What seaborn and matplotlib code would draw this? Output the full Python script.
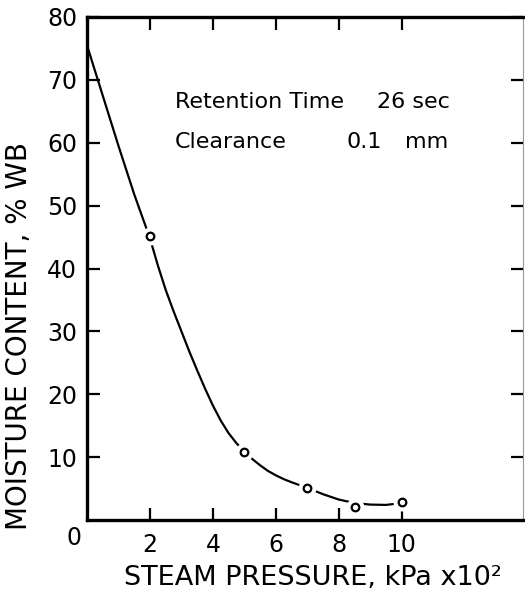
import matplotlib
matplotlib.use("Agg")
import matplotlib.pyplot as plt
import seaborn as sns
import pandas as pd

# Measured points (steam pressure, kPa x 10^2 ; moisture content, % WB)
pressure = [2, 5, 7, 8.5, 10]
moisture = [45.2, 10.8, 5.1, 2.1, 2.9]

# Hand-drawn curve
curve_x = [0, 0.5, 1, 1.5, 1.75, 2, 2.25, 2.5, 2.75, 3, 3.25, 3.5, 3.75, 4, 4.25,
           4.5, 4.75, 5, 5.25, 5.5, 5.75, 6, 6.25, 6.5, 6.75, 7, 7.5, 8, 8.5,
           9, 9.5, 10]
curve_y = [75.5, 67.5, 59.5, 51.8, 48.3, 44.8, 40.5, 36.6, 33.2, 30.0, 26.8, 23.8,
           20.9, 18.2, 15.8, 13.8, 12.2, 10.9, 9.7, 8.7, 7.8, 7.1, 6.5, 6.0, 5.55,
           5.1, 4.1, 3.25, 2.7, 2.45, 2.4, 2.7]

x_ticks = [2, 4, 6, 8, 10]
y_ticks = [10, 20, 30, 40, 50, 60, 70, 80]

sns.set_style("ticks")
plt.rcParams["font.family"] = ["DejaVu Sans"]
plt.rcParams["text.color"] = "black"
plt.rcParams["axes.labelcolor"] = "black"
plt.rcParams["xtick.color"] = "black"
plt.rcParams["ytick.color"] = "black"

fig = plt.figure(figsize=(5.25, 5.97), dpi=100)
ax = fig.add_axes([87 / 525, 77 / 597, 436 / 525, 503 / 597])

pts = pd.DataFrame({"p": pressure, "m": moisture})
crv = pd.DataFrame({"x": curve_x, "y": curve_y})

sns.lineplot(data=crv, x="x", y="y", ax=ax, color="black", lw=1.6, zorder=2)
# white halos to create gaps in the curve around the points
ax.plot(pts["p"], pts["m"], "o", ms=13, color="white", mec="none", zorder=3)
sns.scatterplot(data=pts, x="p", y="m", ax=ax, s=30, facecolor="white",
                edgecolor="black", linewidth=1.6, zorder=4)

ax.set_xlim(0, 13.85)
ax.set_ylim(0, 80)
ax.set_xticks(x_ticks)
ax.set_xticklabels([str(v) for v in x_ticks])
ax.set_yticks(y_ticks)
ax.set_yticklabels([str(v) for v in y_ticks])

for s in ["left", "bottom", "top"]:
    ax.spines[s].set_linewidth(2.4)
    ax.spines[s].set_color("black")
ax.spines["right"].set_linewidth(0.8)
ax.spines["right"].set_color("#999999")

ax.tick_params(axis="both", direction="in", length=9, width=1.6, color="black",
               labelcolor="black", labelsize=17, top=True, right=True)
ax.tick_params(axis="x", pad=9)
ax.tick_params(axis="y", pad=7)

ax.set_xlabel("STEAM PRESSURE, kPa x10²", fontsize=19.5)
ax.set_ylabel("MOISTURE CONTENT, % WB", fontsize=20)
ax.xaxis.set_label_coords(0.518, -0.09)
ax.yaxis.set_label_coords(-0.124, 0.366)

ax.annotate("0", xy=(0, 0), xycoords="data", xytext=(-9, -13),
            textcoords="offset points", ha="center", va="center", fontsize=17)

ax.text(2.8, 65.5, "Retention Time", fontsize=16, ha="left", va="baseline")
ax.text(9.2, 65.5, "26 sec", fontsize=16, ha="left", va="baseline")
ax.text(2.8, 59.1, "Clearance", fontsize=16, ha="left", va="baseline")
ax.text(8.25, 59.1, "0.1", fontsize=16, ha="left", va="baseline")
ax.text(10.1, 59.1, "mm", fontsize=16, ha="left", va="baseline")

fig.savefig("out.png", dpi=100)
